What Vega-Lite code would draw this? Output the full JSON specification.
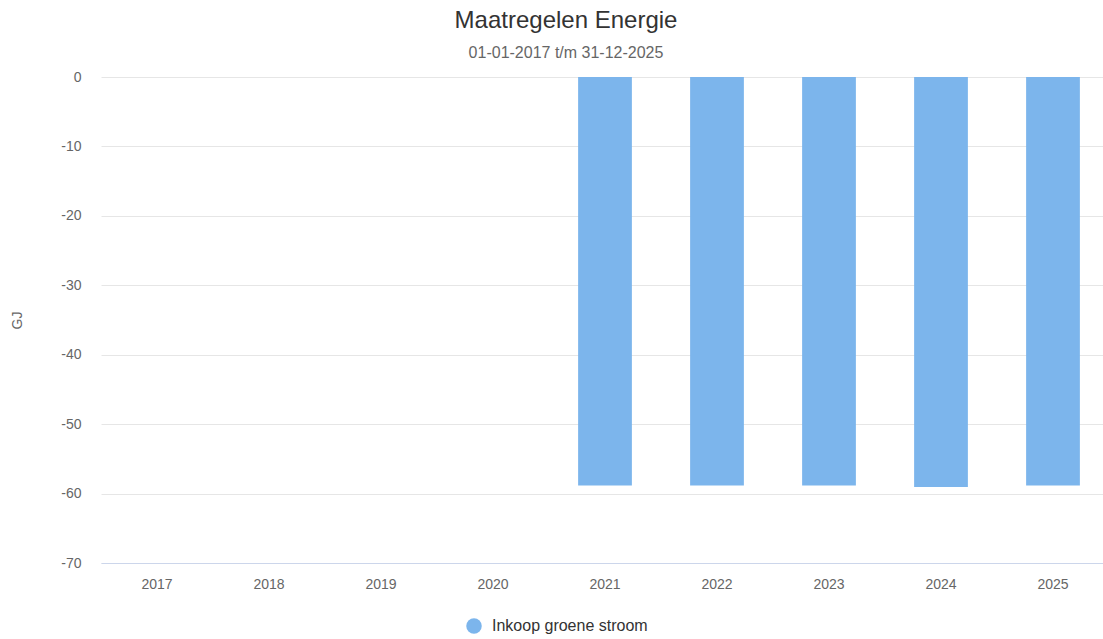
{
  "$schema": "https://vega.github.io/schema/vega-lite/v6.json",
  "width": 1002,
  "height": 486,
  "autosize": {"type": "none"},
  "padding": {"left": 101, "top": 77, "right": 0, "bottom": 76},
  "background": "white",
  "title": {
    "text": "Maatregelen Energie",
    "subtitle": "01-01-2017 t/m 31-12-2025",
    "font": "Liberation Sans",
    "fontSize": 24,
    "fontWeight": "normal",
    "color": "#333333",
    "subtitleFont": "Liberation Sans",
    "subtitleFontSize": 16,
    "subtitleColor": "#666666",
    "anchor": "middle",
    "dx": -36,
    "offset": 9,
    "subtitlePadding": 12
  },
  "data": {
    "values": [
      {"jaar": "2021", "GJ": -58.85, "maatregel": "Inkoop groene stroom"},
      {"jaar": "2022", "GJ": -58.85, "maatregel": "Inkoop groene stroom"},
      {"jaar": "2023", "GJ": -58.85, "maatregel": "Inkoop groene stroom"},
      {"jaar": "2024", "GJ": -59.05, "maatregel": "Inkoop groene stroom"},
      {"jaar": "2025", "GJ": -58.85, "maatregel": "Inkoop groene stroom"}
    ]
  },
  "mark": {"type": "bar"},
  "encoding": {
    "x": {
      "field": "jaar",
      "type": "ordinal",
      "scale": {
        "domain": ["2017", "2018", "2019", "2020", "2021", "2022", "2023", "2024", "2025"],
        "range": [0, 1008],
        "paddingInner": 0.52,
        "paddingOuter": 0.26
      },
      "axis": {
        "title": null,
        "labelAngle": 0,
        "labelFont": "Liberation Sans",
        "labelFontSize": 14,
        "labelColor": "#666666",
        "labelPadding": 14,
        "ticks": false,
        "tickSize": 0,
        "domainColor": "#ccd6eb",
        "domainWidth": 1,
        "grid": false
      }
    },
    "y": {
      "field": "GJ",
      "type": "quantitative",
      "scale": {"domain": [-70, 0], "nice": false},
      "axis": {
        "title": "GJ",
        "titleFont": "Liberation Sans",
        "titleFontSize": 14,
        "titleFontWeight": "normal",
        "titleColor": "#666666",
        "titleAngle": -90,
        "titleX": -84,
        "titleY": 243,
        "titleAlign": "center",
        "titleBaseline": "middle",
        "values": [-70, -60, -50, -40, -30, -20, -10, 0],
        "labelExpr": "'' + datum.value",
        "labelFont": "Liberation Sans",
        "labelFontSize": 14,
        "labelColor": "#666666",
        "labelPadding": 20,
        "ticks": false,
        "tickSize": 0,
        "domain": false,
        "grid": true,
        "gridColor": "#e6e6e6",
        "gridWidth": 1
      }
    },
    "color": {
      "field": "maatregel",
      "type": "nominal",
      "scale": {"range": ["#7cb5ec"]},
      "legend": {
        "title": null,
        "orient": "none",
        "legendX": 365,
        "legendY": 541,
        "symbolType": "circle",
        "symbolSize": 240,
        "symbolStrokeWidth": 0,
        "labelFont": "Liberation Sans",
        "labelFontSize": 16,
        "labelColor": "#333333",
        "labelOffset": 10
      }
    }
  },
  "config": {"view": {"stroke": null}}
}
